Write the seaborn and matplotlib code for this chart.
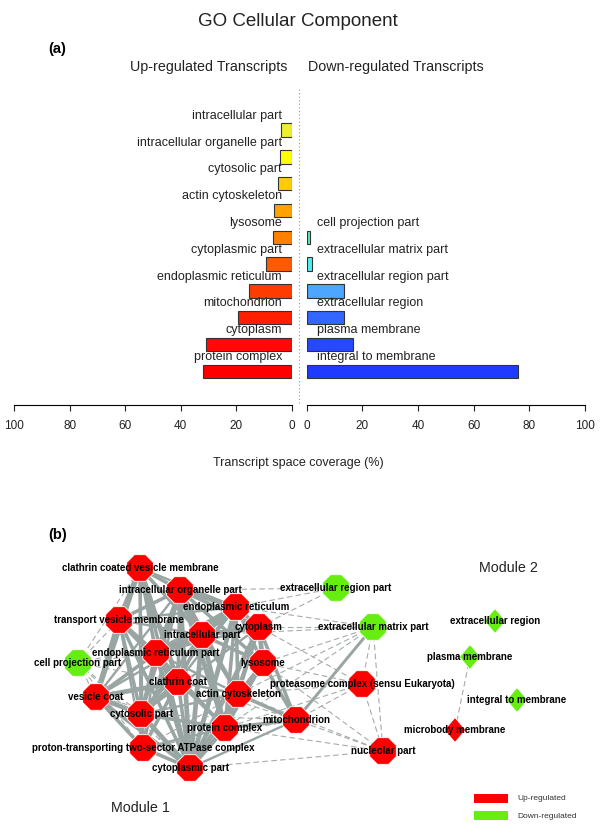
import numpy as np
import pandas as pd
import matplotlib
matplotlib.use("Agg")
import matplotlib.pyplot as plt
import seaborn as sns
from matplotlib.patches import Rectangle

plt.rcParams["font.family"] = ["Liberation Sans", "DejaVu Sans"]

# ---------------- data: panel (a) ----------------
up_terms = ["intracellular part", "intracellular organelle part", "cytosolic part",
            "actin cytoskeleton", "lysosome", "cytoplasmic part",
            "endoplasmic reticulum", "mitochondrion", "cytoplasm", "protein complex"]
up_coverage = [4.0, 4.3, 4.9, 6.4, 6.8, 9.4, 15.6, 19.4, 31.1, 31.9]
up_colors = ["#EEEE30", "#FFFF00", "#FFCC00", "#FFA200", "#FF8000",
             "#FF5A00", "#FF3C00", "#FF1E00", "#FF0A00", "#FF0000"]

down_terms = ["cell projection part", "extracellular matrix part",
              "extracellular region part", "extracellular region",
              "plasma membrane", "integral to membrane"]
down_coverage = [1.3, 2.0, 13.5, 13.5, 16.6, 75.8]
down_colors = ["#60E8C0", "#50EEF0", "#4DA6FF", "#3366FF", "#2648FF", "#1E3CFF"]

coverage_ticks = [0, 20, 40, 60, 80, 100]

# ---------------- data: panel (b) network ----------------
node_ids = ["CCVM", "IOP", "ER", "TVM", "CYT", "IP", "ERP", "CPP", "LYS", "CC",
            "AC", "VC", "CSP", "PC", "MIT", "PTA", "CP", "PRO", "NUC",
            "ERGP", "ECMP", "ERG", "PM", "ITM", "MM"]
node_labels = ["clathrin coated vesicle membrane", "intracellular organelle part",
               "endoplasmic reticulum", "transport vesicle membrane", "cytoplasm",
               "intracellular part", "endoplasmic reticulum part", "cell projection part",
               "lysosome", "clathrin coat", "actin cytoskeleton", "vesicle coat",
               "cytosolic part", "protein complex", "mitochondrion",
               "proton-transporting two-sector ATPase complex", "cytoplasmic part",
               "proteasome complex (sensu Eukaryota)", "nucleolar part",
               "extracellular region part", "extracellular matrix part",
               "extracellular region", "plasma membrane", "integral to membrane",
               "microbody membrane"]
node_x = [140, 180, 236, 119, 259, 202, 156, 78, 263, 178,
          238, 96, 141, 225, 296, 143, 190, 362, 383,
          336, 373, 495, 470, 517, 455]
node_y = [568, 590, 607, 620, 627, 635, 653, 663, 663, 682,
          694, 697, 714, 728, 720, 748, 768, 684, 751,
          588, 627, 621, 657, 700, 730]
node_regulation = ["Up", "Up", "Up", "Up", "Up", "Up", "Up", "Down", "Up", "Up",
                   "Up", "Up", "Up", "Up", "Up", "Up", "Up", "Up", "Up",
                   "Down", "Down", "Down", "Down", "Down", "Up"]
node_module = [1, 1, 1, 1, 1, 1, 1, 1, 1, 1,
               1, 1, 1, 1, 1, 1, 1, 1, 1,
               1, 1, 2, 2, 2, 2]

strong_edges = [
    ("CCVM", "IOP", 3), ("CCVM", "TVM", 4), ("CCVM", "ERP", 3), ("CCVM", "CC", 4),
    ("CCVM", "VC", 4), ("CCVM", "CSP", 3), ("CCVM", "PTA", 2), ("CCVM", "CP", 3),
    ("CCVM", "IP", 3), ("CCVM", "ER", 2),
    ("IOP", "ER", 4), ("IOP", "TVM", 3), ("IOP", "CYT", 3), ("IOP", "IP", 5),
    ("IOP", "ERP", 3), ("IOP", "LYS", 3), ("IOP", "CC", 3), ("IOP", "AC", 3),
    ("IOP", "VC", 2), ("IOP", "CSP", 3), ("IOP", "PC", 4), ("IOP", "PTA", 2), ("IOP", "CP", 4),
    ("ER", "CYT", 3), ("ER", "IP", 4), ("ER", "ERP", 5), ("ER", "LYS", 3), ("ER", "AC", 3),
    ("ER", "PC", 3), ("ER", "CP", 4), ("ER", "TVM", 2), ("ER", "CSP", 2), ("ER", "CC", 2),
    ("TVM", "ERP", 3), ("TVM", "CC", 4), ("TVM", "VC", 4), ("TVM", "CSP", 3),
    ("TVM", "PTA", 2), ("TVM", "CP", 3), ("TVM", "IP", 2),
    ("CYT", "IP", 4), ("CYT", "LYS", 4), ("CYT", "AC", 3), ("CYT", "PC", 3),
    ("CYT", "CP", 4), ("CYT", "MIT", 3), ("CYT", "ERP", 2), ("CYT", "CSP", 2),
    ("IP", "ERP", 4), ("IP", "LYS", 3), ("IP", "CC", 3), ("IP", "AC", 3), ("IP", "PC", 4),
    ("IP", "CP", 4), ("IP", "CSP", 3), ("IP", "VC", 2),
    ("ERP", "CC", 3), ("ERP", "VC", 3), ("ERP", "CSP", 3), ("ERP", "PTA", 2),
    ("ERP", "CP", 4), ("ERP", "AC", 2), ("ERP", "PC", 3),
    ("LYS", "AC", 3), ("LYS", "PC", 3), ("LYS", "CP", 3), ("LYS", "MIT", 3),
    ("CC", "VC", 4), ("CC", "CSP", 4), ("CC", "PTA", 3), ("CC", "CP", 3),
    ("CC", "AC", 2), ("CC", "PC", 2),
    ("AC", "PC", 3), ("AC", "CP", 3), ("AC", "MIT", 3), ("AC", "CSP", 2),
    ("VC", "CSP", 4), ("VC", "PTA", 3), ("VC", "CP", 3),
    ("CSP", "PC", 3), ("CSP", "PTA", 3), ("CSP", "CP", 4),
    ("PC", "CP", 4), ("PC", "MIT", 3), ("PC", "PTA", 2),
    ("PTA", "CP", 3), ("MIT", "CP", 2), ("MIT", "ECMP", 2.5),
]
weak_edges = [
    ("CPP", "TVM"), ("CPP", "ERP"), ("CPP", "VC"), ("CPP", "CSP"), ("CPP", "IP"),
    ("CPP", "CC"), ("CPP", "CP"), ("CPP", "CCVM"), ("CPP", "PTA"),
    ("ERGP", "ER"), ("ERGP", "CYT"), ("ERGP", "IOP"),
    ("ECMP", "ER"), ("ECMP", "CYT"), ("ECMP", "LYS"), ("ECMP", "IP"), ("ECMP", "AC"),
    ("ECMP", "PRO"), ("ECMP", "NUC"), ("ECMP", "PC"),
    ("PRO", "LYS"), ("PRO", "AC"), ("PRO", "CYT"), ("PRO", "MIT"), ("PRO", "PC"),
    ("PRO", "NUC"),
    ("NUC", "MIT"), ("NUC", "PC"), ("NUC", "CP"), ("NUC", "AC"), ("NUC", "LYS"),
    ("VC", "PC"), ("CSP", "AC"), ("PTA", "AC"), ("CP", "LYS"), ("CC", "MIT"),
    ("CSP", "MIT"), ("PTA", "MIT"),
    ("MM", "PM"),
]

# ---------------- figure ----------------
W, H = 600, 835
fig = plt.figure(figsize=(W / 100, H / 100), dpi=100)


def fig_rect(x0, y0, x1, y1):
    return [x0 / W, 1 - y1 / H, (x1 - x0) / W, (y1 - y0) / H]


row0, row_step = 130.0, 26.8
top_px, bot_px = 91, 405
ylims = ((bot_px - row0) / row_step, (top_px - row0) / row_step)

axL = fig.add_axes(fig_rect(14, top_px, 292, bot_px))
axR = fig.add_axes(fig_rect(306.5, top_px, 585, bot_px))

df_up = pd.DataFrame({"term": up_terms, "coverage": up_coverage,
                      "row": np.arange(len(up_terms))})
offset = len(up_terms) - len(down_terms)
df_down = pd.DataFrame({"term": down_terms, "coverage": down_coverage,
                        "row": offset + np.arange(len(down_terms))})

for ax, df, cols in [(axL, df_up, up_colors), (axR, df_down, down_colors)]:
    sns.barplot(data=df, x="coverage", y="row", hue="term",
                palette=dict(zip(df["term"], cols)), orient="h", native_scale=True,
                width=0.5, dodge=False, legend=False, errorbar=None, saturation=1,
                edgecolor="#333333", linewidth=0.8, ax=ax)
    ax.set_ylim(*ylims)
    ax.set_yticks([])
    ax.set_xticks(coverage_ticks)
    ax.set_xlabel("")
    ax.set_ylabel("")
    ax.set_facecolor("none")
    for s in ["top", "left", "right"]:
        ax.spines[s].set_visible(False)
    ax.spines["bottom"].set_linewidth(0.8)
    ax.tick_params(axis="x", direction="out", length=4.5, width=0.8, pad=6,
                   labelsize=8.5, colors="#222222")

axL.set_xlim(100, 0)
axR.set_xlim(0, 100)

for _, r in df_up.iterrows():
    axL.text(3.6, r["row"] - 0.53, r["term"], ha="right", va="center", fontsize=9,
             color="#222222")
for _, r in df_down.iterrows():
    axR.text(3.7, r["row"] - 0.53, r["term"], ha="left", va="center", fontsize=9,
             color="#222222")

# ---------------- overlay canvas ----------------
ov = fig.add_axes([0, 0, 1, 1])
ov.set_zorder(5)

ov.text(298, 22, "GO Cellular Component", ha="center", va="center", fontsize=13.5,
        color="#222222")
ov.text(57, 49, "(a)", ha="center", va="center", fontsize=10.5, fontweight="bold")
ov.text(287, 67, "Up-regulated Transcripts", ha="right", va="center", fontsize=10.3,
        color="#222222")
ov.text(308, 67, "Down-regulated Transcripts", ha="left", va="center", fontsize=10.3,
        color="#222222")
ov.plot([299, 299], [89, 404], ls=(0, (1, 2.2)), color="#999999", lw=0.8)
ov.text(298, 463, "Transcript space coverage (%)", ha="center", va="center",
        fontsize=9, color="#222222")
ov.text(58, 535, "(b)", ha="center", va="center", fontsize=10.5, fontweight="bold")

# network
pos = {k: (x, y) for k, x, y in zip(node_ids, node_x, node_y)}
for a, b, w in strong_edges:
    ov.plot([pos[a][0], pos[b][0]], [pos[a][1], pos[b][1]], color="#99A5A3",
            lw=w * 0.85, solid_capstyle="butt", zorder=1)
for a, b in weak_edges:
    ov.plot([pos[a][0], pos[b][0]], [pos[a][1], pos[b][1]], color="#A4ACAA",
            lw=0.8, ls=(0, (5, 3)), zorder=1)

nodes = pd.DataFrame({"id": node_ids, "label": node_labels, "x": node_x, "y": node_y,
                      "regulation": node_regulation, "module": node_module})
pal = {"Up": "#FF0000", "Down": "#66EE11"}
sns.scatterplot(data=nodes[nodes["module"] == 1], x="x", y="y", hue="regulation",
                palette=pal, marker="8", s=430, edgecolor="white", linewidth=0.6,
                legend=False, ax=ov, zorder=3)
diamond = [(0, 1), (0.85, 0), (0, -1), (-0.85, 0), (0, 1)]
sns.scatterplot(data=nodes[nodes["module"] == 2], x="x", y="y", hue="regulation",
                palette=pal, marker=diamond, s=320, edgecolor="white", linewidth=0.6,
                legend=False, ax=ov, zorder=3)
for _, r in nodes.iterrows():
    ov.text(r["x"], r["y"], r["label"], ha="center", va="center", fontsize=7,
            fontweight="bold", color="black", zorder=4)

ov.text(140, 808, "Module 1", ha="center", va="center", fontsize=10.3, color="#222222")
ov.text(508, 568, "Module 2", ha="center", va="center", fontsize=10.3, color="#222222")

# legend
ov.add_patch(Rectangle((474, 794), 34, 9, facecolor="#FF0000", edgecolor="none"))
ov.add_patch(Rectangle((474, 811), 34, 9, facecolor="#66EE11", edgecolor="none"))
ov.text(517, 799, "Up-regulated", ha="left", va="center", fontsize=6, color="#333333")
ov.text(517, 816, "Down-regulated", ha="left", va="center", fontsize=6, color="#333333")

ov.set_xlim(0, W)
ov.set_ylim(H, 0)
ov.axis("off")

fig.savefig("out.png", dpi=100)
